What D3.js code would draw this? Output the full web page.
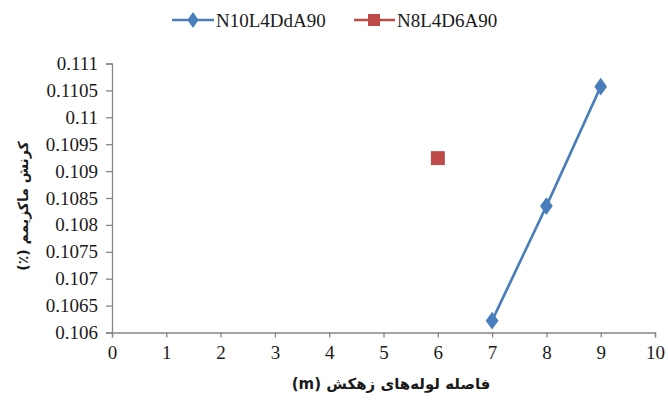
<!DOCTYPE html>
<html><head><meta charset="utf-8">
<script src="https://cdn.jsdelivr.net/npm/d3@7"></script>
<style>body{margin:0;background:#fff}svg{display:block}</style>
</head><body>
<script>
const seriesNames = ["N10L4DdA90", "N8L4D6A90"];
const blueX = [7, 8, 9];
const blueY = [0.10622, 0.10835, 0.11057];
const redX = [6];
const redY = [0.10924];
const xTicks = [0,1,2,3,4,5,6,7,8,9,10];
const yTicks = [0.106,0.1065,0.107,0.1075,0.108,0.1085,0.109,0.1095,0.11,0.1105,0.111];
const xTitle = "فاصله لوله‌های زهکش (m)";
const yTitle = "کرنش ماکزیمم (٪)";

const W = 668, H = 401;
const svg = d3.select("body").append("svg").attr("width", W).attr("height", H);
const serif = '"Liberation Serif"';
const axisColor = "#868686";
const blue = "#4A7EBB", red = "#BE4B48";
const txt = "#1a1a1a";

const x = d3.scaleLinear().domain([0,10]).range([112, 655]);
const y = d3.scaleLinear().domain([0.106,0.111]).range([332.5, 63.5]);

// x axis
const gx = svg.append("g").attr("transform", `translate(0,${y(0.106)})`)
  .call(d3.axisBottom(x).tickValues(xTicks).tickFormat(d3.format("d")).tickSizeOuter(0).tickSize(5).tickPadding(8));
// y axis
const gy = svg.append("g").attr("transform", `translate(${x(0)},0)`)
  .call(d3.axisLeft(y).tickValues(yTicks).tickFormat(d => String(+d.toFixed(4))).tickSizeOuter(0).tickSize(6).tickPadding(8));
[gx, gy].forEach(g => {
  g.attr("font-family", null).attr("font-size", null);
  g.select(".domain").attr("stroke", axisColor).attr("stroke-width", 1.3);
  g.selectAll(".tick line").attr("stroke", axisColor).attr("stroke-width", 1.3);
  g.selectAll("text").style("font-family", serif).style("font-size", "19px").attr("fill", txt);
});

// blue line
const line = d3.line().x(d => x(d[0])).y(d => y(d[1]));
const bluePts = blueX.map((v,i) => [v, blueY[i]]);
svg.append("path").datum(bluePts).attr("d", line).attr("fill","none")
  .attr("stroke", blue).attr("stroke-width", 2.6);
const diamond = d3.symbol().type(d3.symbolDiamond).size(90);
svg.selectAll(".bd").data(bluePts).enter().append("path")
  .attr("d", diamond)
  .attr("transform", d => `translate(${x(d[0])},${y(d[1])}) scale(1.25,1)`)
  .attr("fill", blue);

// red points
const redPts = redX.map((v,i) => [v, redY[i]]);
svg.selectAll(".rs").data(redPts).enter().append("rect")
  .attr("x", d => x(d[0]) - 6.5).attr("y", d => y(d[1]) - 6.5)
  .attr("width", 13).attr("height", 13).attr("fill", red).attr("stroke", "#B0403D").attr("stroke-width", 0.8);

// legend
const lg = svg.append("g");
const lgY = 20;
lg.append("line").attr("x1", 172).attr("x2", 214).attr("y1", lgY).attr("y2", lgY).attr("stroke", blue).attr("stroke-width", 2.6);
lg.append("path").attr("d", diamond).attr("transform", `translate(193,${lgY}) scale(1.1,0.9)`).attr("fill", blue);
lg.append("text").attr("x", 216).attr("y", lgY).attr("dy", "0.35em").text(seriesNames[0])
  .style("font-family", serif).style("font-size", "19px").attr("fill", txt);
lg.append("line").attr("x1", 354).attr("x2", 395).attr("y1", lgY).attr("y2", lgY).attr("stroke", red).attr("stroke-width", 2.6);
lg.append("rect").attr("x", 368).attr("y", lgY - 6).attr("width", 12).attr("height", 12).attr("fill", red);
lg.append("text").attr("x", 397).attr("y", lgY).attr("dy", "0.35em").text(seriesNames[1])
  .style("font-family", serif).style("font-size", "19px").attr("fill", txt);

// axis titles
svg.append("text").attr("x", 391).attr("y", 389).attr("text-anchor", "middle")
  .attr("direction", "rtl").style("font-family", "'DejaVu Sans','Noto Sans',sans-serif")
  .style("font-size", "15px").style("font-weight", "bold").attr("fill", txt).text(xTitle);
svg.append("text").attr("transform", "translate(23,206) rotate(-90)").attr("text-anchor", "middle")
  .attr("dy", "0.35em").attr("direction", "rtl").style("font-family", "'DejaVu Sans','Noto Sans',sans-serif")
  .style("font-size", "14px").style("font-weight", "bold").attr("fill", txt).text(yTitle);
</script>
</body></html>
